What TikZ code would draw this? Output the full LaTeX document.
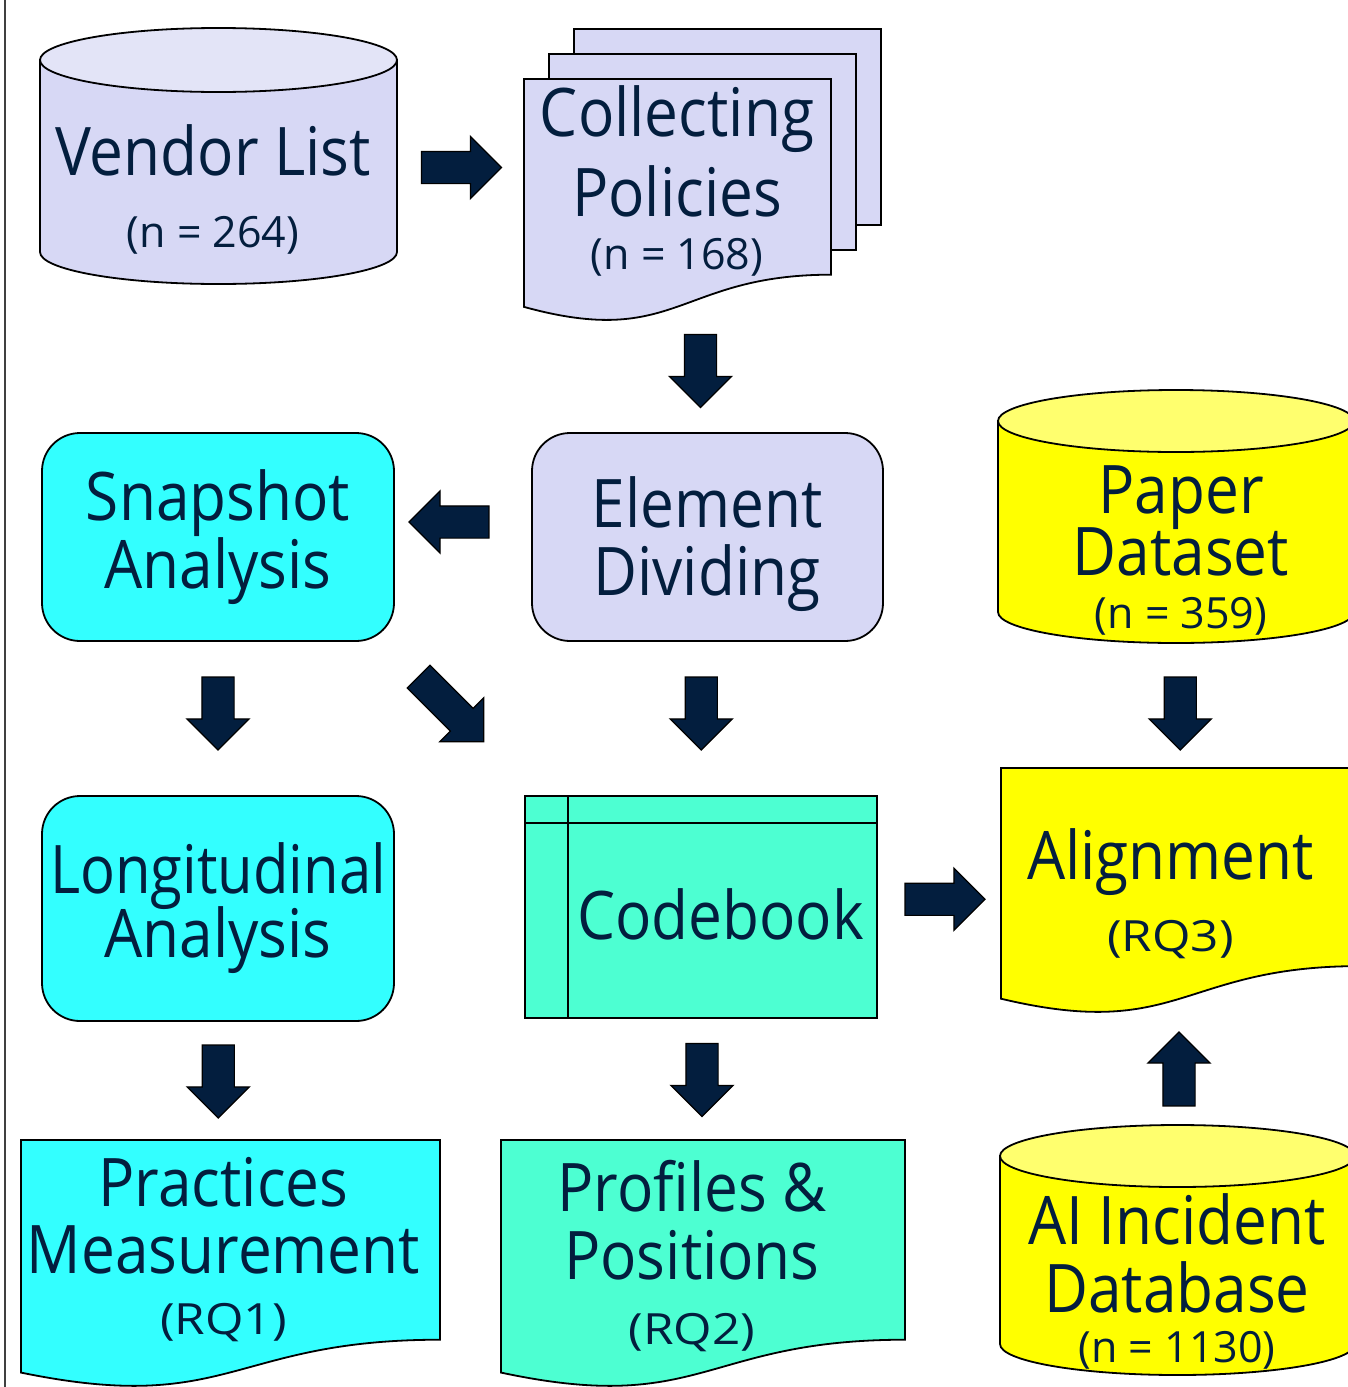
\documentclass[tikz,border=0pt]{standalone}
\usepackage{fontspec}
\setmainfont{Open Sans}[FakeStretch=0.9]
\newfontfamily\smallfont{Open Sans}
\usetikzlibrary{shapes.arrows,calc}

\definecolor{lav}{RGB}{215,216,245}
\definecolor{lavtop}{RGB}{227,228,247}
\definecolor{cyanbox}{RGB}{51,255,255}
\definecolor{aqua}{RGB}{77,255,210}
\definecolor{yel}{RGB}{255,255,0}
\definecolor{yeltop}{RGB}{255,255,110}
\definecolor{navy}{RGB}{3,30,62}

\newcommand{\bigfs}{\fontsize{67}{68}\selectfont}
\newcommand{\smallfs}{\smallfont\fontsize{43}{50}\selectfont}
\newcommand{\rqfs}{\smallfs\addfontfeature{FakeStretch=1.15}}

% database drum: node, x radius, y radius, body colour, lid colour
\newcommand{\dbcyl}[5]{%
  \draw[fill=#4] ($(#1.north west)+(0,#3)$) -- ($(#1.south west)+(0,-#3)$)
    arc[start angle=180, end angle=0, x radius=#2, y radius=#3]
    -- ($(#1.north east)+(0,#3)$) -- cycle;
  \draw[fill=#5] ($(#1.north)+(0,#3)$) ellipse[x radius=#2, y radius=#3];}

% sheet with a wavy lower edge: node, fill colour
\newcommand{\docshape}[2]{%
  \draw[fill=#2] (#1.north west) -- (#1.north east)
    -- ($(#1.north east)!.802!(#1.south east)$)
    .. controls ($(#1.north)!.802!(#1.south)$) and ($(#1.north)!1.1075!(#1.south)$)
    .. ($(#1.north west)!.934!(#1.south west)$) -- cycle;}

\begin{document}
\begin{tikzpicture}[x=1pt, y=-1pt, line width=1.8,
    box/.style={inner sep=0, outer sep=0},
    rbox/.style={draw, rounded corners=38, inner sep=0, outer sep=0, text=navy, font=\bigfs, align=center},
    txt/.style={text=navy, font=\bigfs, align=center, inner sep=0},
    barrow/.style={single arrow, draw=black, fill=navy, line width=1.2, inner xsep=0, inner ysep=15.5,
        outer sep=0, minimum height=#1, single arrow head extend=15, single arrow head indent=0},
    barrow/.default=80]
\useasboundingbox (0,0) rectangle (1348,1387);
\draw[line width=2, black!75] (5,0) -- (5,1387);

% first row
\node[box, minimum width=357, minimum height=256] (vendor) at (218.5,156) {};
\dbcyl{vendor}{178.5}{32}{lav}{lavtop}
\node[txt] (vendortxt) at (213,189) {Vendor List\\[4pt]\smallfs (n = 264)};

\node[box, minimum width=307, minimum height=244] (coll) at (677.5,201) {};
\draw[fill=lav] ([shift={(50,-50)}]coll.north west) rectangle ++(307,196);
\draw[fill=lav] ([shift={(25,-25)}]coll.north west) rectangle ++(307,196);
\docshape{coll}{lav}
\node[txt] (colltxt) at (677,181) {Collecting\\[12pt]Policies\\[-15pt]\smallfs (n = 168)};

% second row
\node[rbox, fill=cyanbox, minimum width=352, minimum height=208] (snap) at (218,537) {Snapshot\\Analysis};
\node[rbox, fill=lav, minimum width=351, minimum height=208] (divide) at (707.5,537) {};
\node[txt] (dividetxt) at (707,544) {Element\\Dividing};

\node[box, minimum width=356, minimum height=253] (paper) at (1176,516.5) {};
\dbcyl{paper}{178}{31}{yel}{yeltop}
\node[txt] (papertxt) at (1181,550) {Paper\\[-6pt]Dataset\\[-15pt]\smallfs (n = 359)};

% third row
\node[rbox, fill=cyanbox, minimum width=352, minimum height=225] (longi) at (218,908.5)
    {{\addfontfeature{FakeStretch=0.865}Longitudinal}\\[-4pt]Analysis};

\node[draw, fill=aqua, inner sep=0, outer sep=0, minimum width=352, minimum height=222] (codebook) at (701,907) {};
\draw ([yshift=-27]codebook.north west) -- ([yshift=-27]codebook.north east);
\draw ([xshift=43]codebook.north west) -- ([xshift=43]codebook.south west);
\node[txt] (codebooktxt) at (720.5,914.5) {Codebook};

\node[box, minimum width=359, minimum height=247] (align) at (1180.5,891.5) {};
\docshape{align}{yel}
\node[txt] (aligntxt) at (1170.5,894) {Alignment\\[4pt]\rqfs (RQ3)};

% last row
\node[box, minimum width=419, minimum height=249] (practice) at (230.5,1264.5) {};
\docshape{practice}{cyanbox}
\node[txt] (practicetxt) at (223.5,1250) {Practices\\[-1pt]Measurement\\[-7pt]\rqfs (RQ1)};

\node[box, minimum width=404, minimum height=249] (profile) at (703,1264.5) {};
\docshape{profile}{aqua}
\node[txt] (profiletxt) at (692,1256) {Profiles \&\\Positions\\[-3pt]\rqfs (RQ2)};

\node[box, minimum width=355, minimum height=250] (incident) at (1177.5,1250) {};
\dbcyl{incident}{177.5}{31}{yel}{yeltop}
\node[txt] (incidenttxt) at (1177,1281) {AI Incident\\Database\\[-18pt]\smallfs (n = 1130)};

% block arrows between the stages
\node[barrow] (a1) at ($(vendor.east)!.5!(coll.west)+(-7,-11)$) {};
\node[barrow=73, rotate=-90] (a2) at ($(coll.south)!.5!(divide.north)+(8,-15)$) {};
\node[barrow, rotate=180] (a3) at ($(divide.west)!.5!(snap.east)+(-6,-15)$) {};
\node[barrow=73, rotate=-90] (a4) at ($(snap.south)!.5!(longi.north)+(0,-13)$) {};
\node[barrow=92, rotate=-45] (a5) at ($(snap.south east)!.5!(codebook.north west)+(-14,-15)$) {};
\node[barrow=73, rotate=-90] (a6) at ($(divide.south)!.5!(codebook.north)+(-3,-13)$) {};
\node[barrow=73, rotate=-90] (a7) at ($(paper.south)!.5!(align.north)+(2,0)$) {};
\node[barrow] (a8) at ($(codebook.east)!.5!(align.west)+(-2,0)$) {};
\node[barrow=74, rotate=90] (a9) at ($(incident.north)!.5!(align.south)+(0,7)$) {};
\node[barrow=73, rotate=-90] (a10) at ($(longi.south)!.5!(practice.north)+(-6,-7)$) {};
\node[barrow=73, rotate=-90] (a11) at ($(codebook.south)!.5!(profile.north)+(0,-7)$) {};
\end{tikzpicture}
\end{document}
